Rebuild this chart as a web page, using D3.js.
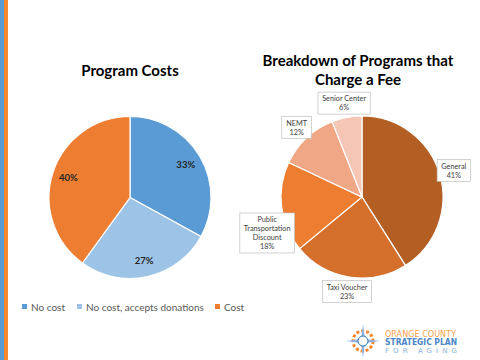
<!DOCTYPE html>
<html>
<head>
<style>
  body { margin: 0; background: #fff; font-family: Lato, "Open Sans", sans-serif; }
  svg { display: block; }
  .title { font-weight: bold; font-size: 15px; fill: #000; text-anchor: middle; }
  .legend text { font-size: 10px; fill: #595959; }
  .dl text { font-size: 7.3px; fill: #404040; text-anchor: middle; }
</style>
</head>
<body>
<svg id="chart" width="480" height="360"></svg>
<script src="https://d3js.org/d3.v7.min.js"></script>
<script>
// program costs
var costLabels = ["No cost", "No cost, accepts donations", "Cost"];
var costValues = [33, 27, 40];
var costColors = ["#5B9BD5", "#9DC3E6", "#ED7D31"];

// programs that charge a fee
var feeLabels = ["General", "Taxi Voucher", "Public Transportation Discount", "NEMT", "Senior Center"];
var feeLines = [["General"], ["Taxi Voucher"], ["Public", "Transportation", "Discount"], ["NEMT"], ["Senior Center"]];
var feeValues = [41, 23, 18, 12, 6];
var feeColors = ["#B35E22", "#D4702C", "#ED7D31", "#F0A785", "#F5C6B5"];
var feeNudge = [0, 0, 24, 0, 0];

var svg = d3.select("#chart");

// side stripes
svg.append("rect").attr("x", 0).attr("y", 0).attr("width", 4).attr("height", 360).attr("fill", "#5B9BD5");
svg.append("rect").attr("x", 4).attr("y", 0).attr("width", 4).attr("height", 360).attr("fill", "#F7882F");

var r = 81;
var pie = d3.pie().sort(null).startAngle(0).endAngle(2 * Math.PI);
var arc = d3.arc().innerRadius(0).outerRadius(r);

// left pie
svg.append("text").attr("class", "title").attr("x", 130).attr("y", 76).text("Program Costs");
var g1 = svg.append("g").attr("transform", "translate(130,197.5)");
var arcs1 = pie(costValues);
g1.selectAll("path").data(arcs1).enter().append("path")
  .attr("d", arc)
  .attr("fill", function(d, i) { return costColors[i]; })
  .attr("stroke", "#fff").attr("stroke-width", 1.2);
var lblArc1 = d3.arc().innerRadius(r * 0.8).outerRadius(r * 0.8);
g1.selectAll("text").data(arcs1).enter().append("text")
  .attr("transform", function(d) { return "translate(" + lblArc1.centroid(d) + ")"; })
  .attr("dy", "0.35em")
  .attr("text-anchor", "middle")
  .style("font-size", "9.5px").style("font-weight", "bold").style("fill", "#262626")
  .text(function(d) { return d.data + "%"; });

// legend
var leg = svg.append("g").attr("class", "legend");
var legX = [22, 77, 215];
costLabels.forEach(function(l, i) {
  leg.append("rect").attr("x", legX[i]).attr("y", 304).attr("width", 5).attr("height", 5).attr("fill", costColors[i]);
  leg.append("text").attr("x", legX[i] + 9).attr("y", 310.5).text(l);
});

// right pie
svg.append("text").attr("class", "title").attr("x", 358).attr("y", 66).text("Breakdown of Programs that");
svg.append("text").attr("class", "title").attr("x", 358).attr("y", 85).text("Charge a Fee");
var g2 = svg.append("g").attr("transform", "translate(362,197)");
var arcs2 = pie(feeValues);
g2.selectAll("path").data(arcs2).enter().append("path")
  .attr("d", arc)
  .attr("fill", function(d, i) { return feeColors[i]; })
  .attr("stroke", "#fff").attr("stroke-width", 1.2);

var lblArc2 = d3.arc().innerRadius(r * 1.18).outerRadius(r * 1.18);
var dl = g2.selectAll("g.dl").data(arcs2).enter().append("g").attr("class", "dl")
  .attr("transform", function(d, i) {
    var c = lblArc2.centroid(d);
    return "translate(" + c[0] + "," + (c[1] + feeNudge[i]) + ")";
  });
dl.each(function(d, i) {
  var el = d3.select(this);
  var lines = feeLines[i].concat([d.data + "%"]);
  var lh = 9;
  var h = lines.length * lh + 4;
  var t = el.append("text");
  lines.forEach(function(s, k) {
    t.append("tspan").attr("x", 0).attr("y", -h / 2 + 2 + lh * (k + 0.8)).text(s);
  });
  var w = t.node().getBBox().width + 8;
  el.insert("rect", "text")
    .attr("x", -w / 2).attr("y", -h / 2).attr("width", w).attr("height", h)
    .attr("fill", "#fff").attr("stroke", "#BFBFBF").attr("stroke-width", 0.7);
});

// logo
var logo = svg.append("g").attr("transform", "translate(363,341)");
logo.append("circle").attr("r", 10).attr("fill", "none").attr("stroke", "#F7882F").attr("stroke-width", 3)
  .attr("stroke-dasharray", "3 2");
logo.append("path").attr("d", "M0,-17 L2,-2 L17,0 L2,2 L0,17 L-2,2 L-17,0 L-2,-2 Z").attr("fill", "#8DB4E2");
logo.append("circle").attr("r", 5).attr("fill", "#fff").attr("stroke", "#2E75B6").attr("stroke-width", 1);
svg.append("text").attr("x", 385).attr("y", 337).attr("textLength", 71).attr("lengthAdjust", "spacingAndGlyphs")
  .style("font-size", "8px").style("fill", "#F7A14A")
  .style("font-family", "'DejaVu Sans Condensed', sans-serif").text("ORANGE COUNTY");
svg.append("text").attr("x", 385).attr("y", 345).attr("textLength", 72).attr("lengthAdjust", "spacingAndGlyphs")
  .style("font-size", "8px").style("font-weight", "bold").style("fill", "#4A86C8")
  .style("font-family", "'DejaVu Sans Condensed', sans-serif").text("STRATEGIC PLAN");
svg.append("text").attr("x", 385).attr("y", 352.5).attr("textLength", 72).attr("lengthAdjust", "spacing")
  .style("font-size", "7px").style("fill", "#8DB4E2")
  .style("font-family", "'DejaVu Sans', sans-serif").text("FOR AGING");
</script>
</body>
</html>
